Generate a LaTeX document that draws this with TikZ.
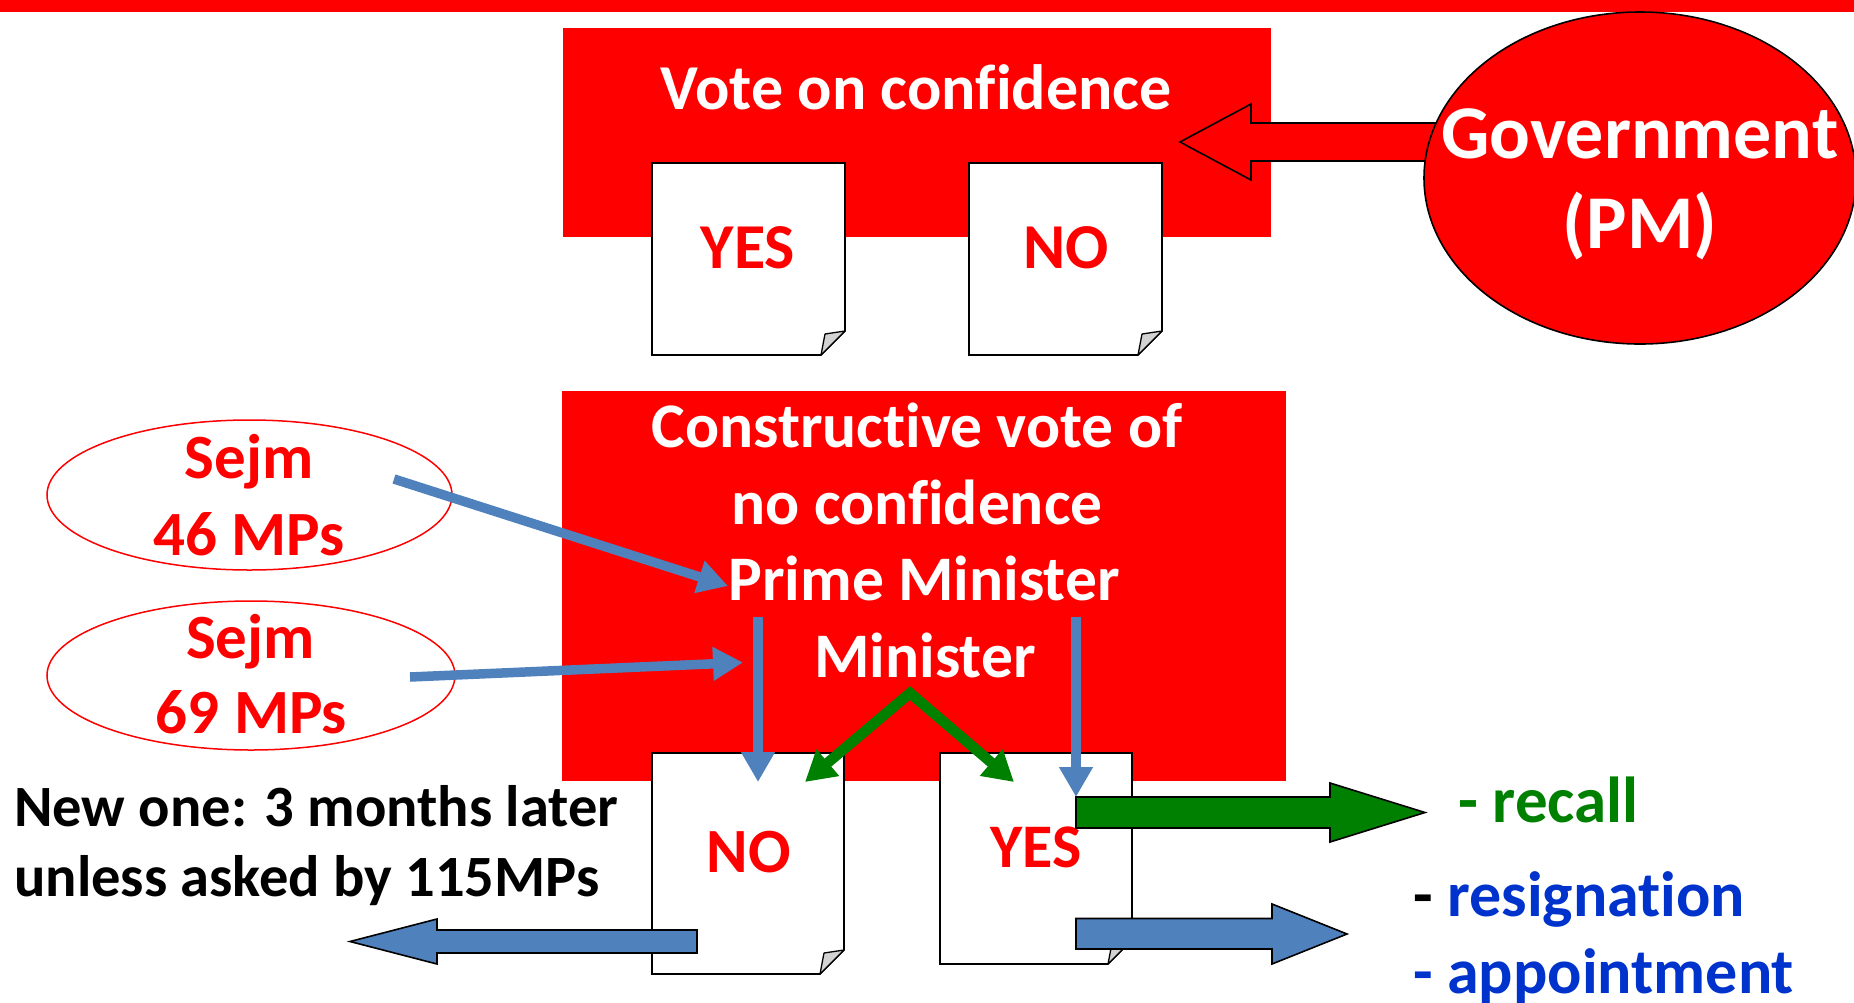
\documentclass[tikz,border=0pt]{standalone}
\usepackage{fontspec}
\setmainfont{Carlito}[Ligatures=NoCommon]
\usetikzlibrary{arrows.meta,shapes.geometric}
\definecolor{pptred}{RGB}{255,0,0}
\definecolor{pptblue}{RGB}{79,129,189}
\definecolor{pptgreen}{RGB}{0,128,0}
\definecolor{txtblue}{RGB}{0,51,204}
\newcommand\DocOutline[1]{%
  \filldraw[fill=white,draw=black,line width=1.6pt] (#1.north west) -- (#1.north east) -- ([yshift=24pt]#1.south east) -- ([xshift=-24pt]#1.south east) -- (#1.south west) -- cycle;
  \filldraw[fill=gray!35,draw=black,line width=1.3pt,line join=round] ([xshift=-24pt]#1.south east) -- ([xshift=-20pt,yshift=21pt]#1.south east) -- ([yshift=24pt]#1.south east) -- cycle;}
\tikzset{
  redbox/.style={fill=pptred,inner sep=0pt,outer sep=0pt},
  docbox/.style={inner sep=0pt,outer sep=0pt},
  wtxt/.style={text=white,anchor=base,inner sep=0pt,font=\bfseries\fontsize{#1}{#1}\selectfont},
  rtxt/.style={text=pptred,anchor=base,inner sep=0pt,font=\bfseries\fontsize{#1}{#1}\selectfont},
  ktxt/.style={text=black,anchor=base west,inner sep=0pt,font=\bfseries\fontsize{#1}{#1}\selectfont},
  bluearrow/.style={draw=pptblue,line width=9.5pt,-{Triangle[length=30pt,width=32pt]}},
  greenarrow/.style={draw=pptgreen,line width=10.5pt,line join=miter,{Triangle[length=30pt,width=33pt]}-{Triangle[length=30pt,width=33pt]}},
  blockarrow/.style={draw=black,line width=1.6pt,line join=miter},
}
\begin{document}
\begin{tikzpicture}[x=1pt,y=-1pt]
\useasboundingbox (0,0) rectangle (1854,1002);
% top bar
\fill[pptred] (0,0) rectangle (1854,12);
% vote on confidence box
\node[redbox,minimum width=708pt,minimum height=209pt] (votebox) at (917,132.5) {};
\node[wtxt=64] (votet) at (916,109) {Vote on confidence};
% documents top
\node[docbox,minimum width=193pt,minimum height=192pt] (yes1) at (748.5,259) {};
\DocOutline{yes1}
\node[docbox,minimum width=193pt,minimum height=192pt] (no1) at (1065.5,259) {};
\DocOutline{no1}
\node[rtxt=64] (yes1t) at (748,268) {YES};
\node[rtxt=64] (no1t) at (1066,268) {NO};
% government arrow and ellipse
\filldraw[fill=pptred,blockarrow] (1437,123) -- (1251,123) -- (1251,104) -- (1180,142) -- (1251,180) -- (1251,161) -- (1437,161) -- cycle;
\node[ellipse,draw=black,line width=1.6pt,fill=pptred,minimum width=432pt,minimum height=332pt,inner sep=0pt] (gov) at (1640,178) {};
\node[wtxt=76] (govt) at (1640,158) {Government};
\node[wtxt=76] (pmt) at (1640,248) {(PM)};
% constructive vote box
\node[redbox,minimum width=724pt,minimum height=390pt] (cvbox) at (924,586) {};
\node[wtxt=63.5] (cv1) at (917,447) {Constructive vote of};
\node[wtxt=63.5] (cv2) at (917,524) {no confidence};
\node[wtxt=63.5] (cv3) at (924,600) {Prime Minister};
\node[wtxt=63.5] (cv4) at (925,677) {Minister};
% bottom documents
\node[docbox,minimum width=192pt,minimum height=221pt] (no2) at (748,863.5) {};
\DocOutline{no2}
\node[docbox,minimum width=192pt,minimum height=211pt] (yes2) at (1036,858.5) {};
\DocOutline{yes2}
\node[rtxt=63] (no2t) at (749,872) {NO};
\node[rtxt=62] (yes2t) at (1036,867) {YES};
% Sejm ellipses
\node[ellipse,draw=pptred,line width=1.5pt,fill=white,minimum width=405pt,minimum height=150pt,inner sep=0pt] (sejmA) at (249.5,495) {};
\node[rtxt=63] (sejmAt) at (249,478) {Sejm};
\node[rtxt=63] (sejmAn) at (249,555) {46 MPs};
\node[ellipse,draw=pptred,line width=1.5pt,fill=white,minimum width=408pt,minimum height=149pt,inner sep=0pt] (sejmB) at (251,675.5) {};
\node[rtxt=63] (sejmBt) at (250.5,658) {Sejm};
\node[rtxt=63] (sejmBn) at (251.5,733) {69 MPs};
% left text
\node[ktxt=58.5] (newone) at (14,826) {New one: 3 months later};
\node[ktxt=58.5] (unless) at (14,896) {unless asked by 115MPs};
% right texts
\node[ktxt=65,text=pptgreen] (recall) at (1458,822) {- recall};
\node[ktxt=64] (resig) at (1413,916) {- \textcolor{txtblue}{resignation}};
\node[ktxt=64,text=txtblue] (appoint) at (1413,993) {- appointment};
% line arrows
\coordinate (a1s) at (394,479);
\coordinate (a1e) at (728,586);
\coordinate (a2s) at (410,677);
\coordinate (a2e) at (743,662.5);
\coordinate (v1s) at (758,617);
\coordinate (v1e) at (758,782);
\coordinate (v2s) at (1076,617);
\coordinate (v2e) at (1076,797);
\coordinate (gapex) at (910,693);
\coordinate (gl) at (805,782);
\coordinate (gr) at (1014,782);
\draw[bluearrow] (a1s) -- (a1e);
\draw[bluearrow] (a2s) -- (a2e);
\draw[bluearrow] (v1s) -- (v1e);
\draw[bluearrow] (v2s) -- (v2e);
\draw[greenarrow] (gl) -- (gapex) -- (gr);
% block arrows
\filldraw[fill=pptgreen,blockarrow] (1076,797) -- (1330,797) -- (1330,783) -- (1425,812.5) -- (1330,842) -- (1330,828) -- (1076,828) -- cycle;
\filldraw[fill=pptblue,blockarrow] (1076,918.5) -- (1272,918.5) -- (1272,904) -- (1347,934) -- (1272,964) -- (1272,949) -- (1076,949) -- cycle;
\filldraw[fill=pptblue,blockarrow] (697,930) -- (437,930) -- (437,919) -- (350,941.5) -- (437,964) -- (437,953) -- (697,953) -- cycle;
\end{tikzpicture}
\end{document}
